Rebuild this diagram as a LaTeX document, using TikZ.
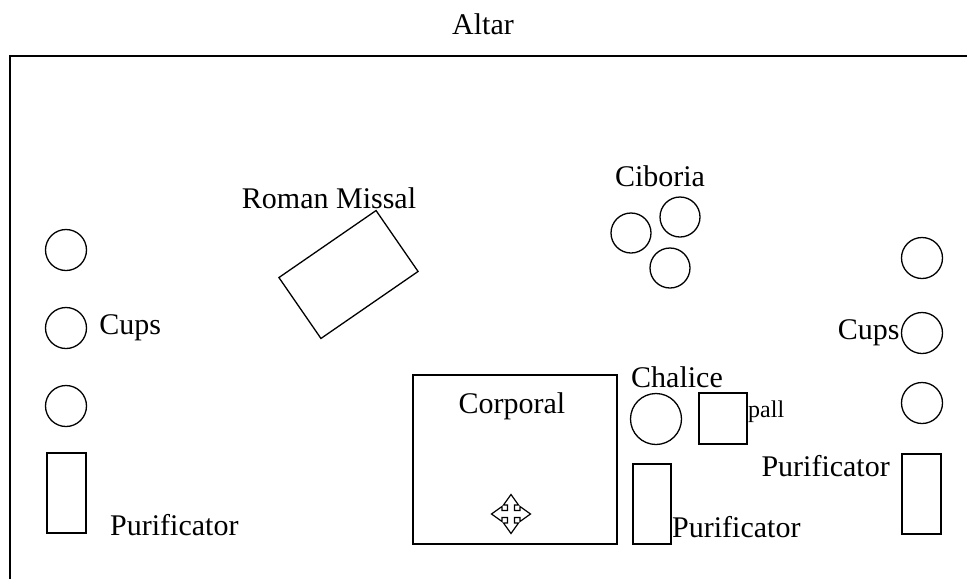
\documentclass[tikz,border=0pt]{standalone}
\usepackage{fontspec}
\setmainfont{Liberation Serif}
\usetikzlibrary{positioning}
\tikzset{cup/.style={draw, circle, minimum size=41pt, inner sep=0pt, line width=1.3pt},
	cloth/.style={draw, rectangle, inner sep=0pt, line width=1.3pt},
	word/.style={font=\fontsize{30}{36}\selectfont, inner sep=0pt}}

\begin{document}
\begin{tikzpicture}[x=1pt, y=-1pt]
	
	\useasboundingbox (0,0) rectangle (967,579);
	
	% altar edge
	\draw [line width=2pt] (10,579) -- (10,56) -- (967,56);
	\node [word] (altar) at (483,24) {Altar};
	
	% roman missal
	\node [cloth, minimum width=118pt, minimum height=74pt, rotate=34.6] (missal) at (348.5,274.5) {};
	\node [word] (missaltext) at (329,198) {Roman Missal};
	
	% ciboria
	\node [cup, minimum size=40pt] (cib1) at (631,233) {};
	\node [cup, minimum size=40pt] (cib2) at (680,217) {};
	\node [cup, minimum size=40pt] (cib3) at (670,268) {};
	\node [word] (cibtext) at (660,176) {Ciboria};
	
	% cups left and right
	\foreach \y [count=\i] in {250,328,406}
		\node [cup] (lcup\i) at (66,\y) {};
	\foreach \y [count=\i] in {258,333,403}
		\node [cup] (rcup\i) at (922,\y) {};
	\node [word, right=12pt of lcup2] (lcuptext) {Cups};
	\node [word, left=1pt of rcup2] (rcuptext) {Cups};
	
	% corporal
	\node [cloth, minimum width=204pt, minimum height=169pt] (corporal) at (515,459.5) {};
	\node [word] (corptext) at (512,406) {Corporal};
	\coordinate (cross) at (511,514);
	\def \w {3.5}  % half width of arm
	\def \h {7.5}  % half width of head
	\def \b {9}    % base of head
	\def \L {19.5} % tip
	\draw [line width=1.2pt, shift={(cross)}]
		(0,-\L) -- (\h,-\b) -- (\w,-\b) -- (\w,-\w) -- (\b,-\w) -- (\b,-\h) -- (\L,0)
		-- (\b,\h) -- (\b,\w) -- (\w,\w) -- (\w,\b) -- (\h,\b) -- (0,\L)
		-- (-\h,\b) -- (-\w,\b) -- (-\w,\w) -- (-\b,\w) -- (-\b,\h) -- (-\L,0)
		-- (-\b,-\h) -- (-\b,-\w) -- (-\w,-\w) -- (-\w,-\b) -- (-\h,-\b) -- cycle;
	
	% chalice and pall
	\node [cup, minimum size=51pt] (chalice) at (656,419) {};
	\node [word] (chaltext) at (677,377) {Chalice};
	\node [cloth, minimum width=48pt, minimum height=51pt] (pall) at (723,418.5) {};
	\node [word, font=\fontsize{24}{28}\selectfont, anchor=west] (palltext) at (748,412) {pall};
	
	% purificators
	\node [cloth, minimum width=39pt, minimum height=80pt] (lpur) at (66.5,493) {};
	\node [cloth, minimum width=38pt, minimum height=80pt] (mpur) at (652,504) {};
	\node [cloth, minimum width=39pt, minimum height=80pt] (rpur) at (921.5,494) {};
	\node [word, anchor=west] (lpurtext) at (110,525) {Purificator};
	\node [word, anchor=west] (mpurtext) at (672,527) {Purificator};
	\node [word, anchor=east] (rpurtext) at (890,466) {Purificator};
	
\end{tikzpicture}
\end{document}
